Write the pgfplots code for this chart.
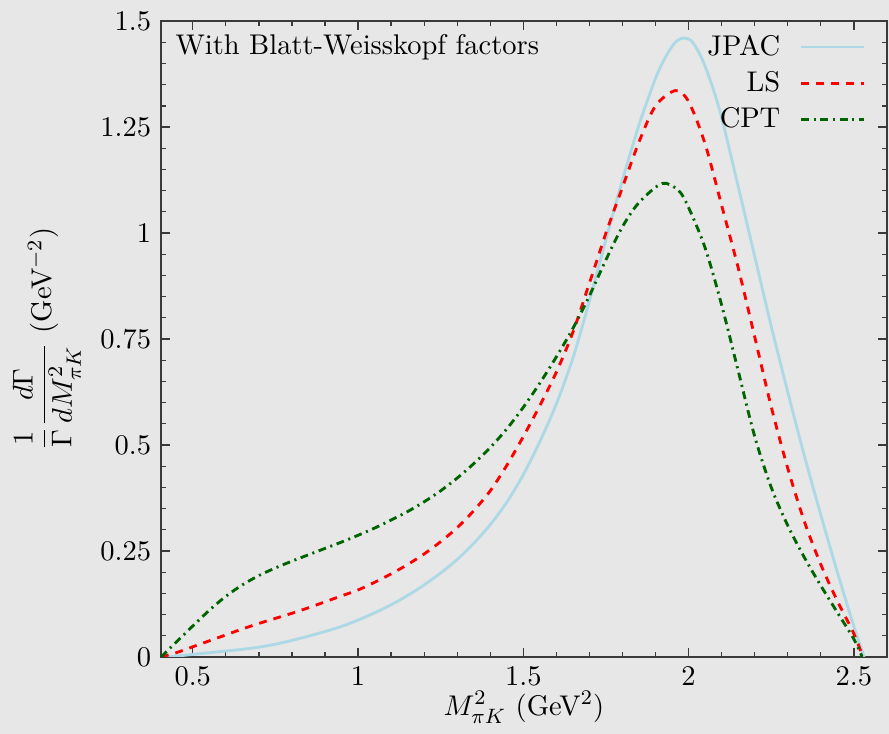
\documentclass[border=0pt]{standalone}
\usepackage{amsmath}
\usepackage{pgfplots}
\pgfplotsset{compat=1.18}
\usetikzlibrary{backgrounds}
\definecolor{bg}{HTML}{E7E7E7}
\definecolor{jpac}{HTML}{ADD8E6}
\definecolor{cpt}{HTML}{006400}
\definecolor{frm}{HTML}{3A3A3A}

\begin{document}
\fontsize{10.95}{13.6}\selectfont
\begin{tikzpicture}[show background rectangle, inner frame sep=0pt,
  background rectangle/.style={fill=bg, draw=none}]
\begin{axis}[
  scale only axis, width=279pt, height=244.4pt,
  font=\fontsize{10.95}{13.6}\selectfont,
  xmin=0.404, xmax=2.6, ymin=0, ymax=1.5,
  xtick={0.5,1,1.5,2,2.5},
  ytick={0,0.25,0.5,0.75,1,1.25,1.5},
  minor x tick num=4, minor y tick num=4,
  tick align=inside, tick pos=both,
  major tick length=3.5pt, minor tick length=2pt,
  axis line style={frm, line width=0.6pt},
  tick style={frm, line width=0.5pt},
  xlabel={$M^2_{\pi K}$ (GeV$^2$)},
  ylabel={$\dfrac{1}{\Gamma}\dfrac{d\Gamma}{dM^2_{\pi K}}$ (GeV$^{-2}$)},
  xlabel style={yshift=2.5pt, inner sep=1pt},
  legend style={at={(rel axis cs:1,1)}, anchor=north east, draw=none, fill=none,
    xshift=-5pt, yshift=-1pt, row sep=0.5pt, /tikz/column sep=5.5pt, nodes={inner sep=2pt}},
  legend cell align=right,
  legend plot pos=right,
  legend image code/.code={\draw[#1] (0cm,0cm) -- (0.85cm,0cm);},
  every axis plot/.append style={line width=1.1pt},
]
\addplot[jpac, smooth] coordinates {
(0.404,0) (0.45,0.002) (0.50,0.006) (0.55,0.010) (0.60,0.014) (0.65,0.018)
(0.70,0.023) (0.75,0.030) (0.80,0.039) (0.85,0.049) (0.90,0.060) (0.95,0.072)
(1.00,0.087) (1.05,0.104) (1.10,0.123) (1.15,0.145) (1.20,0.170) (1.25,0.198)
(1.30,0.230) (1.35,0.268) (1.40,0.312) (1.45,0.365) (1.50,0.430) (1.55,0.508)
(1.60,0.597) (1.65,0.705) (1.70,0.840) (1.75,0.985) (1.80,1.125) (1.85,1.255)
(1.90,1.365) (1.93,1.415) (1.96,1.450) (1.985,1.460) (2.01,1.452) (2.04,1.412)
(2.07,1.350) (2.10,1.272) (2.15,1.110) (2.20,0.945) (2.25,0.780) (2.30,0.625)
(2.35,0.475) (2.40,0.335) (2.45,0.200) (2.50,0.072) (2.531,0)
};
\addlegendentry{JPAC}
\addplot[red, smooth, dash pattern=on 3pt off 2.7pt] coordinates {
(0.404,0) (0.45,0.010) (0.50,0.024) (0.55,0.038) (0.60,0.052) (0.65,0.066)
(0.70,0.079) (0.75,0.091) (0.80,0.103) (0.85,0.116) (0.90,0.130) (0.95,0.144)
(1.00,0.158) (1.05,0.176) (1.10,0.196) (1.15,0.218) (1.20,0.243) (1.25,0.272)
(1.30,0.305) (1.35,0.345) (1.40,0.392) (1.45,0.452) (1.50,0.520) (1.55,0.593)
(1.60,0.672) (1.65,0.766) (1.70,0.882) (1.75,1.000) (1.80,1.108) (1.85,1.215)
(1.90,1.300) (1.96,1.336) (2.00,1.310) (2.05,1.210) (2.10,1.065) (2.15,0.918)
(2.20,0.755) (2.25,0.590) (2.30,0.445) (2.35,0.320) (2.40,0.218) (2.45,0.132)
(2.50,0.055) (2.527,0)
};
\addlegendentry{LS}
\addplot[cpt, smooth, dash pattern=on 3pt off 1.8pt on 0.8pt off 1.8pt] coordinates {
(0.404,0) (0.45,0.035) (0.50,0.073) (0.55,0.110) (0.60,0.143) (0.65,0.170)
(0.70,0.192) (0.75,0.210) (0.80,0.226) (0.85,0.241) (0.90,0.256) (0.95,0.271)
(1.00,0.287) (1.05,0.304) (1.10,0.323) (1.15,0.343) (1.20,0.366) (1.25,0.392)
(1.30,0.422) (1.35,0.456) (1.40,0.494) (1.45,0.538) (1.50,0.589) (1.55,0.646)
(1.60,0.708) (1.65,0.775) (1.70,0.852) (1.75,0.937) (1.80,1.015) (1.85,1.072)
(1.92,1.117) (1.97,1.100) (2.00,1.060) (2.05,0.965) (2.10,0.830) (2.15,0.675)
(2.20,0.520) (2.25,0.400) (2.30,0.310) (2.35,0.235) (2.40,0.168) (2.45,0.105)
(2.50,0.042) (2.525,0)
};
\addlegendentry{CPT}
\node[anchor=base west, inner sep=0pt] at ([shift={(5.4pt,-13pt)}]rel axis cs:0,1) {With Blatt-Weisskopf factors};
\end{axis}
\pgfresetboundingbox
\path[use as bounding box] ([shift={(-61.9pt,-29.6pt)}]current axis.south west)
  rectangle ([shift={(0.8pt,8.1pt)}]current axis.north east);
\end{tikzpicture}
\end{document}
